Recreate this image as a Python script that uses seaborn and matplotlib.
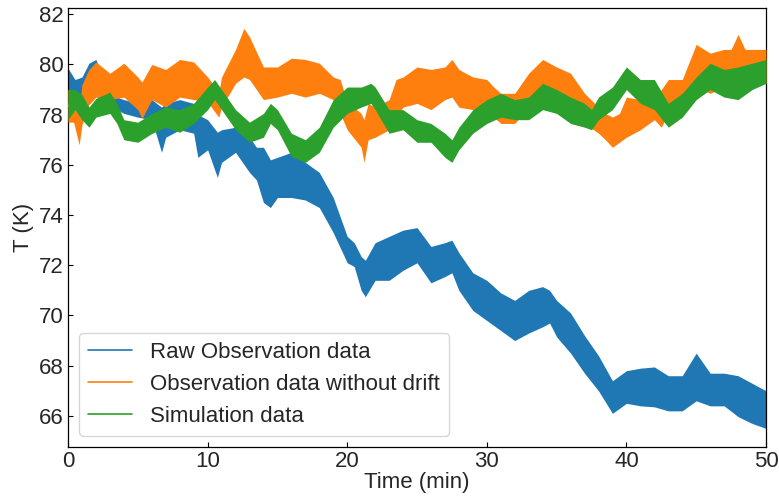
import numpy as np
import pandas as pd
import matplotlib
matplotlib.use("Agg")
import matplotlib.pyplot as plt
import seaborn as sns

# ---- data: lower / upper envelope of each noisy trace ----
raw_t = [0, 0.5, 1, 1.5, 2, 2.5, 3, 3.5, 4, 5, 6, 6.7, 7, 8, 9, 9.3, 10, 10.7, 11, 12,
         13, 13.5, 14, 14.5, 15, 16, 17, 18, 19, 20, 20.5, 21, 21.3, 22, 23, 24, 25, 26,
         27, 27.5, 28, 29, 30, 31, 32, 33, 34, 34.5, 35, 36, 37, 38, 39, 40, 41, 42, 43,
         44, 45, 46, 47, 48, 49, 50]
raw_lo = [78.6, 78.6, 78.7, 79.1, 79.1, 78.6, 78.05, 78.2, 78.05, 77.9, 77.8, 76.5, 77.1,
          77.4, 77.26, 76.3, 76.6, 75.5, 76.1, 76.5, 75.7, 75.4, 74.5, 74.3, 74.7, 74.7,
          74.6, 74.3, 73.3, 72.1, 71.95, 71.0, 70.75, 71.4, 71.4, 71.8, 72.1, 71.3, 71.55,
          71.7, 71.0, 70.2, 69.8, 69.4, 69.0, 69.3, 69.55, 69.7, 69.15, 68.5, 67.7, 67.0,
          66.1, 66.5, 66.4, 66.36, 66.2, 66.2, 66.6, 66.4, 66.4, 65.97, 65.7, 65.5]
raw_hi = [79.85, 79.4, 79.5, 80.05, 80.2, 79.5, 78.85, 78.7, 78.6, 78.45, 78.6, 78.3, 78.45,
          78.6, 78.45, 78.0, 77.8, 77.3, 77.4, 77.5, 77.1, 76.7, 76.7, 76.2, 76.3, 76.5,
          76.1, 75.7, 74.7, 73.15, 72.9, 72.35, 72.2, 72.9, 73.15, 73.4, 73.5, 72.75, 72.9,
          73.0, 72.5, 71.7, 71.4, 70.9, 70.6, 71.0, 71.15, 71.0, 70.6, 70.1, 69.2, 68.4,
          67.4, 67.8, 67.9, 67.95, 67.6, 67.6, 68.5, 67.7, 67.7, 67.6, 67.3, 67.0]

nodrift_t = [0, 0.4, 0.8, 1, 1.5, 2, 3, 4, 5, 5.3, 6, 7, 8, 9, 10, 10.8, 11, 12, 12.6, 13,
             14, 15, 16, 17, 18, 19, 19.5, 20, 21, 21.2, 21.5, 22, 23, 23.5, 24, 25, 26, 27,
             27.5, 28, 29, 30, 30.5, 31, 32, 33, 34, 35, 36, 37, 38, 38.5, 39, 39.5, 40, 41,
             42, 42.5, 43, 44, 45, 46, 47, 47.5, 48, 48.5, 49, 50]
nodrift_lo = [77.7, 77.7, 76.8, 77.6, 78.4, 78.7, 78.6, 78.7, 78.2, 77.85, 78.6, 78.3, 78.7,
              78.6, 78.5, 77.9, 78.3, 79.25, 79.5, 79.4, 78.6, 78.7, 78.85, 78.7, 78.85,
              78.6, 78.05, 77.4, 76.7, 76.1, 77.0, 77.1, 77.4, 77.9, 78.3, 78.45, 78.2, 78.6,
              78.7, 78.3, 78.2, 78.05, 77.9, 77.65, 77.65, 78.3, 78.6, 78.45, 78.3, 77.65,
              77.26, 77.0, 76.7, 76.9, 77.1, 77.4, 77.8, 77.5, 78.05, 78.3, 79.1, 78.85, 79.1,
              79.2, 79.5, 79.4, 79.4, 79.25]
nodrift_hi = [79.0, 79.0, 78.3, 79.2, 79.8, 80.1, 79.65, 80.05, 79.5, 79.3, 80.0, 79.8, 80.2,
              80.1, 79.5, 78.9, 79.5, 80.6, 81.44, 81.1, 79.9, 79.9, 80.25, 80.2, 80.05,
              79.5, 79.4, 78.5, 78.05, 77.8, 78.45, 78.3, 78.6, 79.4, 79.5, 79.9, 79.8, 79.9,
              80.2, 79.8, 79.5, 79.4, 79.1, 78.85, 78.85, 79.65, 80.2, 79.9, 79.65, 78.85,
              78.3, 78.05, 77.9, 78.05, 78.7, 78.6, 78.7, 79.0, 79.4, 79.4, 80.8, 80.45, 80.6,
              80.6, 81.2, 80.6, 80.6, 80.6]

sim_t = [0, 0.5, 1, 1.5, 2, 3, 3.5, 4, 5, 6, 7, 8, 9, 10, 10.5, 11, 12, 13, 14, 14.5, 15,
         16, 17, 18, 19, 20, 21, 21.7, 22, 23, 24, 25, 26, 27, 27.5, 28, 29, 30, 31, 32, 33,
         34, 35, 36, 37, 37.5, 38, 39, 40, 41, 42, 43, 44, 45, 46, 47, 48, 49, 50]
sim_lo = [77.8, 78.2, 77.8, 77.5, 77.9, 78.05, 77.65, 77.0, 76.9, 77.25, 77.5, 77.3, 77.65,
          78.2, 78.6, 78.2, 77.4, 76.9, 77.1, 77.65, 77.4, 76.33, 76.1, 76.5, 77.5, 78.05,
          78.3, 78.45, 78.2, 77.26, 77.4, 76.9, 76.9, 76.3, 76.1, 76.6, 77.26, 77.65, 77.9,
          77.8, 77.8, 78.2, 78.05, 77.65, 77.5, 77.4, 77.8, 78.2, 79.0, 78.45, 78.2, 77.5,
          77.9, 78.6, 79.0, 78.7, 78.6, 79.0, 79.25]
sim_hi = [79.0, 79.0, 78.8, 78.3, 78.65, 78.9, 78.45, 77.8, 77.7, 78.05, 78.3, 78.2, 78.45,
          79.1, 79.4, 79.0, 78.2, 77.7, 78.05, 78.45, 78.2, 77.26, 77.0, 77.5, 78.6, 79.1,
          79.1, 79.25, 79.1, 78.2, 78.2, 77.8, 77.65, 77.26, 77.0, 77.5, 78.2, 78.6, 78.85,
          78.6, 78.7, 79.25, 79.0, 78.7, 78.45, 78.2, 78.7, 79.1, 79.9, 79.4, 79.4, 78.45,
          78.85, 79.5, 80.05, 79.8, 79.9, 80.05, 80.2]

labels = ["Raw Observation data", "Observation data without drift", "Simulation data"]
colors = ["#1f77b4", "#ff7f0e", "#2ca02c"]


def long_form(t, lo, hi):
    return pd.DataFrame({"time": list(t) + list(t), "T": list(lo) + list(hi)})


series = [long_form(raw_t, raw_lo, raw_hi),
          long_form(nodrift_t, nodrift_lo, nodrift_hi),
          long_form(sim_t, sim_lo, sim_hi)]

sns.set_style("ticks")
plt.rcParams["font.family"] = ["Liberation Sans", "DejaVu Sans"]
plt.rcParams["xtick.direction"] = "in"
plt.rcParams["ytick.direction"] = "in"

fig, ax = plt.subplots(figsize=(7.79, 4.99), dpi=100)
fig.subplots_adjust(left=0.0873, right=0.9833, top=0.984, bottom=0.1042)

for i, (df, lab, col) in enumerate(zip(series, labels, colors)):
    z = 2 + i
    sns.lineplot(data=df, x="time", y="T", estimator="mean", errorbar=("pi", 100),
                 color=col, label=lab, linewidth=1.2, zorder=z, ax=ax,
                 err_kws=dict(alpha=1, linewidth=0, zorder=z))

ax.set_xlim(0, 50)
ax.set_ylim(64.76, 82.25)
ax.set_xticks([0, 10, 20, 30, 40, 50])
ax.set_yticks([66, 68, 70, 72, 74, 76, 78, 80, 82])
ax.tick_params(labelsize=16, direction="in", length=3.5, width=0.8, color="black", pad=3)
ax.set_xlabel("Time (min)", fontsize=16, labelpad=0)
ax.set_ylabel("T (K)", fontsize=16, labelpad=4)
for sp in ax.spines.values():
    sp.set_visible(True)
    sp.set_color("black")
    sp.set_linewidth(0.9)

leg = ax.legend(loc="lower left", fontsize=16, frameon=True, handlelength=2.0)
leg.get_frame().set_edgecolor("#cccccc")

fig.savefig("out.png", dpi=100)
